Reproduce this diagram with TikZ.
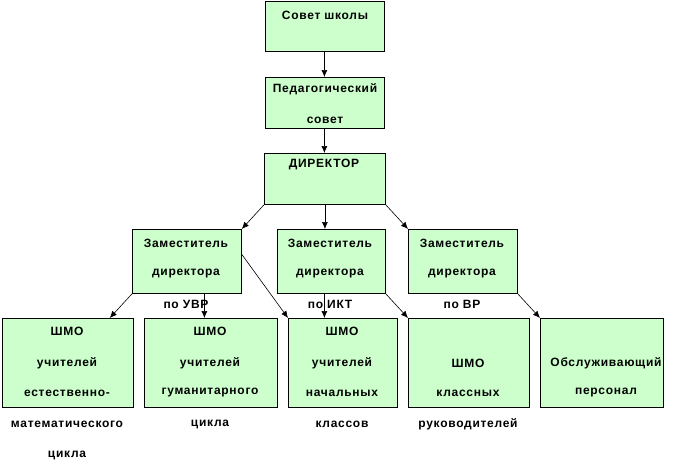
\documentclass[tikz,border=0pt]{standalone}
\usepackage{fontspec}
\setmainfont{Liberation Sans}[LetterSpace=6]
\usetikzlibrary{arrows.meta}
\definecolor{boxgreen}{HTML}{CCFFCC}
\tikzset{
  box/.style={draw=black, fill=boxgreen, line width=0.8pt, inner sep=0pt, anchor=north west},
  lbl/.style={font=\fontsize{12}{14}\selectfont\bfseries, inner sep=0pt, anchor=center},
  conn/.style={line width=0.6pt, -{Latex[length=7pt,width=6pt]}}
}
\newcommand{\bx}[5]{% name, left, top, right, bottom
  \node[box, minimum width=#4pt-#2pt, minimum height=#5pt-#3pt] (#1) at (#2,#3) {};}
\begin{document}
\begin{tikzpicture}[x=1pt,y=-1pt]
\useasboundingbox (0,0) rectangle (673,463);
% boxes
\bx{sovet}{265}{1}{384}{51}
\bx{ped}{265}{77}{384}{128}
\bx{dir}{264}{153}{385}{204}
\bx{uvr}{132}{229}{241}{293}
\bx{ikt}{277}{229}{385}{293}
\bx{vr}{408}{229}{517}{293}
\bx{b1}{2}{318}{133}{407}
\bx{b2}{144}{318}{277}{407}
\bx{b3}{288}{318}{397}{407}
\bx{b4}{408}{318}{529}{407}
\bx{b5}{540}{318}{663}{407}
% texts
\node[lbl] (t1) at (325,15) {Совет школы};
\node[lbl] (t2) at (325,89) {Педагогический};
\node[lbl] (t3) at (325,120) {совет};
\node[lbl] (t4) at (324,165) {ДИРЕКТОР};
\node[lbl] (u1) at (186,243) {Заместитель};
\node[lbl] (u2) at (186,274) {директора};
\node[lbl] (u3) at (186,304) {по УВР};
\node[lbl] (k1) at (330,243) {Заместитель};
\node[lbl] (k2) at (330,274) {директора};
\node[lbl] (k3) at (330,304) {по ИКТ};
\node[lbl] (v1) at (462,243) {Заместитель};
\node[lbl] (v2) at (462,274) {директора};
\node[lbl] (v3) at (462,304) {по ВР};
\node[lbl] (a1) at (67,331) {ШМО};
\node[lbl] (a2) at (67,363) {учителей};
\node[lbl] (a3) at (67,393) {естественно-};
\node[lbl] (a4) at (67,424) {математического};
\node[lbl] (a5) at (67,455) {цикла};
\node[lbl] (g1) at (210,331) {ШМО};
\node[lbl] (g2) at (210,363) {учителей};
\node[lbl] (g3) at (210,393) {гуманитарного};
\node[lbl] (g4) at (210,424) {цикла};
\node[lbl] (n1) at (342,331) {ШМО};
\node[lbl] (n2) at (342,363) {учителей};
\node[lbl] (n3) at (342,393) {начальных};
\node[lbl] (n4) at (342,424) {классов};
\node[lbl] (c1) at (468,363) {ШМО};
\node[lbl] (c2) at (468,393) {классных};
\node[lbl] (c3) at (468,424) {руководителей};
\node[lbl] (o1) at (606,363) {Обслуживающий};
\node[lbl] (o2) at (606,393) {персонал};
% connectors
\draw[conn] ([xshift=-0.5pt]sovet.south) -- ([xshift=-0.5pt]ped.north);
\draw[conn] ([xshift=-0.5pt]ped.south) -- ([xshift=-0.5pt]ped.south |- dir.north);
\draw[conn] (dir.south west) -- (uvr.north east);
\draw[conn] (dir.south) -- (dir.south |- ikt.north);
\draw[conn] (dir.south east) -- (vr.north west);
\draw[conn] (uvr.south west) -- ([xshift=-24pt]b1.north east);
\draw[conn] ([xshift=17.5pt]uvr.south) -- ([xshift=17.5pt]uvr.south |- b2.north);
\draw[conn] ([yshift=7pt]uvr.east) -- (b3.north west);
\draw[conn] ([xshift=-7pt]ikt.south) -- ([xshift=-7pt]ikt.south |- b3.north);
\draw[conn] (ikt.south east) -- (b4.north west);
\draw[conn] (vr.south east) -- (b5.north west);
\end{tikzpicture}
\end{document}
